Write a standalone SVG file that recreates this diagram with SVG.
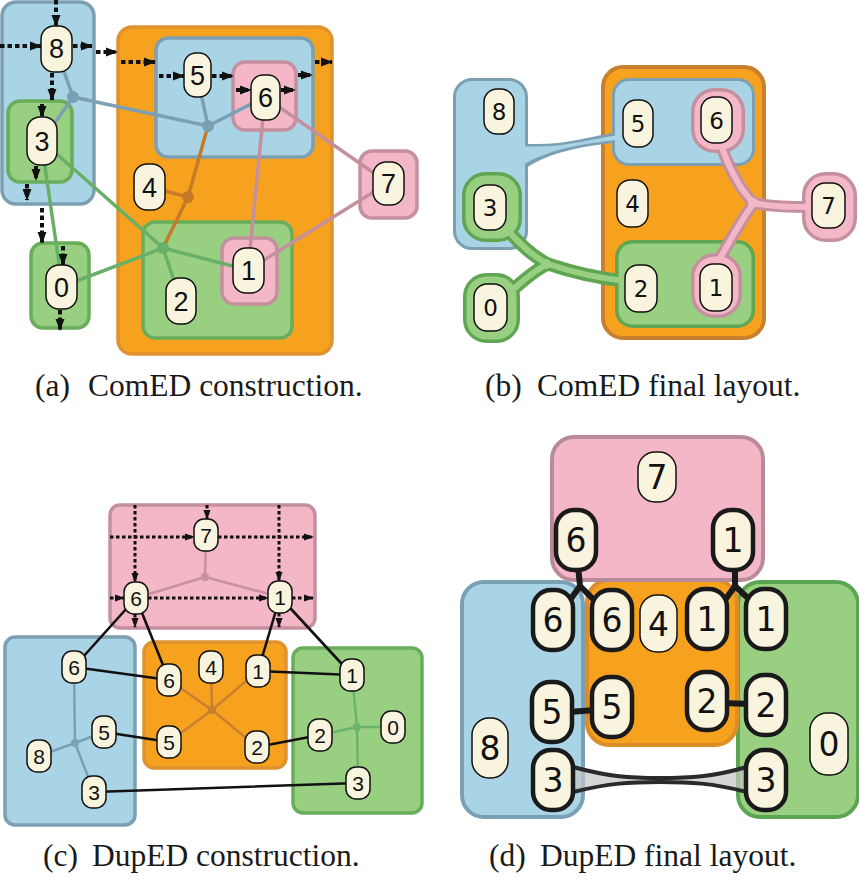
<svg xmlns="http://www.w3.org/2000/svg" width="859" height="881" viewBox="0 0 859 881">
<defs>
<marker id="ah" markerUnits="userSpaceOnUse" markerWidth="12" markerHeight="10" refX="11" refY="5" orient="auto" viewBox="0 0 12 10"><path d="M0,0.5 L12,5 L0,9.5 z" fill="#111"/></marker>
<marker id="ah2" markerUnits="userSpaceOnUse" markerWidth="10" markerHeight="8" refX="9" refY="4" orient="auto" viewBox="0 0 10 8"><path d="M0,0.5 L10,4 L0,7.5 z" fill="#111"/></marker>
<style>
.n{fill:#f8f4de;stroke:#111;stroke-width:1.5}
.nk{fill:#f8f4de;stroke:#1a1a1a;stroke-width:4.5}
.ts{font-family:"Liberation Sans",Arial,sans-serif;text-anchor:middle;fill:#111}
.td{font-family:"DejaVu Sans",sans-serif;text-anchor:middle;fill:#111}
.cap{font-family:"Liberation Serif","Times New Roman",serif;font-size:31.5px;fill:#1a1a1a}
.gb{fill:#a9d4e6;stroke:#7c9fb2;stroke-width:3.5}
.go{fill:#f6a21e;stroke:#de9230;stroke-width:3.5}
.gg{fill:#99cf81;stroke:#68ad5a;stroke-width:3.5}
.gp{fill:#f4b7c7;stroke:#c4909e;stroke-width:3.5}
.dt{fill:none;stroke:#111;stroke-width:4;stroke-dasharray:4.5 3;marker-end:url(#ah)}
.dt2{fill:none;stroke:#111;stroke-width:3;stroke-dasharray:3.5 2.5;marker-end:url(#ah2)}
.eb{stroke:#7b9fb3;stroke-width:3.5;fill:none}
.eo{stroke:#c47a28;stroke-width:3.5;fill:none}
.eg{stroke:#68b068;stroke-width:3.5;fill:none}
.ep{stroke:#c4909e;stroke-width:3.5;fill:none}
.bk{stroke:#111;stroke-width:2.6;fill:none}
.bd{stroke:#1a1a1a;stroke-width:6;fill:none;stroke-linecap:round}
</style>
</defs>
<rect width="859" height="881" fill="#ffffff"/>

<!-- ================= Panel (a) ================= -->
<g id="a-groups">
<rect class="gb" x="2" y="2" width="92" height="202" rx="14"/>
<rect class="gg" x="8" y="101" width="64" height="81" rx="12"/>
<rect class="gg" x="31" y="243" width="58" height="85" rx="12"/>
<rect class="go" x="118" y="27" width="214" height="327" rx="14"/>
<rect class="gb" x="156" y="38" width="157" height="119" rx="12"/>
<rect class="gp" x="233" y="62" width="63" height="68" rx="12"/>
<rect class="gg" x="143" y="222" width="149" height="116" rx="12"/>
<rect class="gp" x="222" y="238" width="55" height="66" rx="12"/>
<rect class="gp" x="360" y="151" width="57" height="67" rx="12"/>
</g>
<g id="a-connectors">
<path class="eb" d="M56,49 L73,97 L42,141 M73,97 L208,126 L197,75 M208,126 L265,97"/>
<path class="eo" d="M149,187 L188,197 L208,126 M188,197 L163,248"/>
<path class="eg" d="M42,141 L163,248 L61,287 M163,248 L181,301 M163,248 L248,270 M44,160 L60,270"/>
<path class="ep" d="M265,97 L388,183 M265,97 L248,270 L388,183"/>
<circle cx="73" cy="97" r="6" fill="#7b9fb3"/>
<circle cx="208" cy="126" r="6" fill="#7b9fb3"/>
<circle cx="188" cy="197" r="6" fill="#c47a28"/>
<circle cx="163" cy="248" r="6" fill="#68b068"/>
<path class="dt" d="M56,0 L56,26"/>
<path class="dt" d="M0,46 L41,46"/>
<path class="dt" d="M73,46 L92,46"/>
<path class="dt" d="M96,52 L117,52"/>
<path class="dt" d="M121,62 L155,62"/>
<path class="dt" d="M159,76 L184,76"/>
<path class="dt" d="M212,76 L233,76"/>
<path class="dt" d="M236,90 L251,90"/>
<path class="dt" d="M281,90 L295,90"/>
<path class="dt" d="M298,75 L312,75"/>
<path class="dt" d="M315,62 L332,62"/>
<path class="dt" d="M52,73 L52,100"/>
<path class="dt" d="M42,104 L42,117"/>
<path class="dt" d="M36,166 L36,180"/>
<path class="dt" d="M27,184 L27,200"/>
<path class="dt" d="M42,208 L42,243"/>
<path class="dt" d="M63,246 L63,265"/>
<path class="dt" d="M60,310 L60,330"/>
</g>
<g id="a-n8"><rect class="n" x="41" y="26" width="31" height="46" rx="13"/><text class="ts" x="56.5" y="58" font-size="27">8</text></g>
<g id="a-n3"><rect class="n" x="27" y="117" width="30" height="48" rx="13"/><text class="ts" x="42" y="150.5" font-size="27">3</text></g>
<g id="a-n5"><rect class="n" x="184" y="53" width="27" height="44" rx="12"/><text class="ts" x="197.5" y="84.5" font-size="27">5</text></g>
<g id="a-n6"><rect class="n" x="251" y="75" width="29" height="45" rx="12"/><text class="ts" x="265.5" y="107" font-size="27">6</text></g>
<g id="a-n4"><rect class="n" x="134" y="164" width="31" height="46" rx="13"/><text class="ts" x="149.5" y="196.5" font-size="27">4</text></g>
<g id="a-n7"><rect class="n" x="373" y="162" width="31" height="43" rx="13"/><text class="ts" x="388.5" y="193" font-size="27">7</text></g>
<g id="a-n1"><rect class="n" x="233" y="248" width="31" height="45" rx="13"/><text class="ts" x="248.5" y="280" font-size="27">1</text></g>
<g id="a-n2"><rect class="n" x="166" y="278" width="30" height="46" rx="13"/><text class="ts" x="181" y="310.5" font-size="27">2</text></g>
<g id="a-n0"><rect class="n" x="46" y="265" width="31" height="44" rx="13"/><text class="ts" x="61.5" y="296.5" font-size="27">0</text></g>
<text class="cap" x="35" y="396">(a)</text>
<text class="cap" x="88" y="396">ComED construction.</text>

<!-- ================= Panel (b) ================= -->
<g id="b-groups">
<rect x="603" y="67" width="161" height="271" rx="20" fill="#f6a21e" stroke="#c8802e" stroke-width="4"/>
<g id="b-blue">
<g fill="#7c9fb2" stroke="#7c9fb2" stroke-width="6" stroke-linejoin="round">
<rect x="456" y="81" width="69" height="166" rx="16"/>
<rect x="615" y="81" width="137" height="82" rx="14"/>
<path d="M522,146 C560,149 586,140 616,135 L616,140 C586,143 546,149 522,168 Z" stroke-width="5"/>
</g>
<g fill="#a9d4e6">
<rect x="456" y="81" width="69" height="166" rx="16"/>
<rect x="615" y="81" width="137" height="82" rx="14"/>
<path d="M518,146 C560,149 586,140 618,135 L618,140 C586,143 546,149 518,168 Z"/>
</g>
</g>
<g id="b-green">
<g stroke="#5fa552">
<rect x="618.5" y="243.5" width="133" height="81" rx="14" fill="#5fa552" stroke-width="7"/>
<rect x="465.5" y="175.5" width="53" height="63" rx="20" fill="#5fa552" stroke-width="7"/>
<rect x="466.5" y="276.5" width="50" height="63" rx="20" fill="#5fa552" stroke-width="7"/>
<path d="M506,228 C520,245 532,256 548,264 M510,292 C522,282 534,270 548,264 M548,264 C572,272 596,278 624,281" fill="none" stroke-width="13"/>
</g>
<g fill="#99cf81">
<rect x="618.5" y="243.5" width="133" height="81" rx="14"/>
<rect x="465.5" y="175.5" width="53" height="63" rx="20"/>
<rect x="466.5" y="276.5" width="50" height="63" rx="20"/>
<path d="M506,228 C520,245 532,256 548,264 M510,292 C522,282 534,270 548,264 M548,264 C572,272 596,278 626,281" fill="none" stroke="#99cf81" stroke-width="6"/>
<circle cx="546" cy="264" r="5"/>
</g>
</g>
<g id="b-pink">
<g stroke="#c4909e">
<rect x="694.5" y="91.5" width="47" height="58" rx="20" fill="#c4909e" stroke-width="7"/>
<rect x="694.5" y="256.5" width="44" height="58" rx="20" fill="#c4909e" stroke-width="7"/>
<rect x="805.5" y="175.5" width="48" height="63" rx="20" fill="#c4909e" stroke-width="7"/>
<path d="M722,148 C732,175 742,192 754,203 M754,203 C772,207 790,207 808,207 M754,203 C742,218 732,238 720,258" fill="none" stroke-width="12"/>
</g>
<g fill="#f4b7c7">
<rect x="694.5" y="91.5" width="47" height="58" rx="20"/>
<rect x="694.5" y="256.5" width="44" height="58" rx="20"/>
<rect x="805.5" y="175.5" width="48" height="63" rx="20"/>
<path d="M722,148 C732,175 742,192 754,203 M754,203 C772,207 790,207 808,207 M754,203 C742,218 732,238 720,258" fill="none" stroke="#f4b7c7" stroke-width="6"/>
<circle cx="753" cy="203" r="5"/>
</g>
</g>
</g>
<g id="b-n8"><rect class="n" x="484" y="89" width="30" height="45" rx="13"/><text class="td" x="499" y="120" font-size="23">8</text></g>
<g id="b-n3"><rect class="n" x="474" y="185" width="32" height="45" rx="13"/><text class="td" x="490" y="216" font-size="23">3</text></g>
<g id="b-n0"><rect class="n" x="474" y="284" width="33" height="47" rx="13"/><text class="td" x="490.5" y="316" font-size="23">0</text></g>
<g id="b-n5"><rect class="n" x="623" y="100" width="30" height="47" rx="13"/><text class="td" x="638" y="132" font-size="23">5</text></g>
<g id="b-n6"><rect class="n" x="701" y="97" width="31" height="46" rx="13"/><text class="td" x="716.5" y="128.5" font-size="23">6</text></g>
<g id="b-n4"><rect class="n" x="617" y="180" width="31" height="47" rx="13"/><text class="td" x="632.5" y="212" font-size="23">4</text></g>
<g id="b-n7"><rect class="n" x="812" y="183" width="33" height="45" rx="13"/><text class="td" x="828.5" y="214" font-size="23">7</text></g>
<g id="b-n2"><rect class="n" x="625" y="265" width="32" height="47" rx="13"/><text class="td" x="641" y="297" font-size="23">2</text></g>
<g id="b-n1"><rect class="n" x="700" y="264" width="32" height="47" rx="13"/><text class="td" x="716" y="296" font-size="23">1</text></g>
<text class="cap" x="485" y="396">(b)</text>
<text class="cap" x="537" y="396">ComED final layout.</text>

<!-- ================= Panel (c) ================= -->
<g id="c-groups">
<rect class="gp" x="110" y="505" width="205" height="123" rx="10" stroke-width="2.5"/>
<rect class="gb" x="5" y="637" width="130" height="188" rx="10" stroke-width="2.5"/>
<rect class="go" x="144" y="642" width="142" height="126" rx="10" stroke-width="2.5"/>
<rect class="gg" x="293" y="648" width="129" height="165" rx="10" stroke-width="2.5"/>
</g>
<g id="c-connectors">
<path d="M206,535 L205,577 L136,598 M205,577 L280,597" stroke="#c890a0" stroke-width="2.5" fill="none"/>
<circle cx="205" cy="577" r="4" fill="#c890a0"/>
<path d="M75,743 L74,667 M75,743 L104,732 M75,743 L39,756 M75,743 L94,792" stroke="#7b9fb3" stroke-width="2.5" fill="none"/>
<circle cx="75" cy="743" r="4" fill="#7b9fb3"/>
<path d="M212,710 L211,667 M212,710 L169,680 M212,710 L258,671 M212,710 L169,742 M212,710 L257,747" stroke="#c8802e" stroke-width="2.5" fill="none"/>
<circle cx="212" cy="710" r="4" fill="#c8802e"/>
<path d="M357,727 L352,675 M357,727 L320,735 M357,727 L393,727 M357,727 L358,783" stroke="#6ab36a" stroke-width="2.5" fill="none"/>
<circle cx="357" cy="727" r="4" fill="#6ab36a"/>
<path class="bk" d="M136,598 L74,667 M136,598 L169,680 M280,597 L258,671 M280,597 L352,675 M74,667 L169,680 M258,671 L352,675 M104,732 L169,742 M257,747 L320,735 M94,792 L358,783"/>
<path class="dt2" d="M110,537 L194,537"/>
<path class="dt2" d="M218,537 L313,537"/>
<path class="dt2" d="M110,598 L124,598"/>
<path class="dt2" d="M148,598 L268,598"/>
<path class="dt2" d="M292,598 L313,598"/>
<path class="dt2" d="M135,505 L135,582"/>
<path class="dt2" d="M135,614 L135,627"/>
<path class="dt2" d="M279,505 L279,581"/>
<path class="dt2" d="M279,613 L279,627"/>
<path class="dt2" d="M207,505 L207,519"/>
</g>
<g id="c-n7"><rect class="n" x="194" y="519" width="24" height="32" rx="10"/><text class="ts" x="206" y="542.5" font-size="21">7</text></g>
<g id="c-n6p"><rect class="n" x="124" y="582" width="24" height="32" rx="10"/><text class="ts" x="136" y="605.5" font-size="21">6</text></g>
<g id="c-n1p"><rect class="n" x="268" y="581" width="24" height="32" rx="10"/><text class="ts" x="280" y="604.5" font-size="21">1</text></g>
<g id="c-n6b"><rect class="n" x="62" y="651" width="24" height="32" rx="10"/><text class="ts" x="74" y="674.5" font-size="21">6</text></g>
<g id="c-n6o"><rect class="n" x="157" y="664" width="24" height="32" rx="10"/><text class="ts" x="169" y="687.5" font-size="21">6</text></g>
<g id="c-n4"><rect class="n" x="199" y="651" width="24" height="32" rx="10"/><text class="ts" x="211" y="674.5" font-size="21">4</text></g>
<g id="c-n1o"><rect class="n" x="246" y="655" width="24" height="32" rx="10"/><text class="ts" x="258" y="678.5" font-size="21">1</text></g>
<g id="c-n1g"><rect class="n" x="340" y="659" width="24" height="32" rx="10"/><text class="ts" x="352" y="682.5" font-size="21">1</text></g>
<g id="c-n5b"><rect class="n" x="92" y="716" width="24" height="32" rx="10"/><text class="ts" x="104" y="739.5" font-size="21">5</text></g>
<g id="c-n5o"><rect class="n" x="157" y="726" width="24" height="32" rx="10"/><text class="ts" x="169" y="749.5" font-size="21">5</text></g>
<g id="c-n2o"><rect class="n" x="245" y="731" width="24" height="32" rx="10"/><text class="ts" x="257" y="754.5" font-size="21">2</text></g>
<g id="c-n2g"><rect class="n" x="308" y="719" width="24" height="32" rx="10"/><text class="ts" x="320" y="742.5" font-size="21">2</text></g>
<g id="c-n0"><rect class="n" x="381" y="711" width="24" height="32" rx="10"/><text class="ts" x="393" y="734.5" font-size="21">0</text></g>
<g id="c-n8"><rect class="n" x="27" y="740" width="24" height="32" rx="10"/><text class="ts" x="39" y="763.5" font-size="21">8</text></g>
<g id="c-n3b"><rect class="n" x="82" y="776" width="24" height="32" rx="10"/><text class="ts" x="94" y="799.5" font-size="21">3</text></g>
<g id="c-n3g"><rect class="n" x="346" y="767" width="24" height="32" rx="10"/><text class="ts" x="358" y="790.5" font-size="21">3</text></g>
<text class="cap" x="43" y="866">(c)</text>
<text class="cap" x="92" y="866">DupED construction.</text>

<!-- ================= Panel (d) ================= -->
<g id="d-groups">
<rect x="462" y="582" width="121" height="235" rx="22" fill="#a9d4e6" stroke="#7aa0b4" stroke-width="4"/>
<rect x="738" y="582" width="120" height="235" rx="22" fill="#99cf81" stroke="#5aa552" stroke-width="4"/>
<rect x="587" y="580" width="150" height="165" rx="22" fill="#f6a21e" stroke="#dd8d28" stroke-width="4"/>
<rect x="552" y="437" width="211" height="143" rx="22" fill="#f4b7c7" stroke="#b98a97" stroke-width="4"/>
</g>
<g id="d-connectors">
<path class="bd" d="M578,566 L580,586 M580,586 L570,600 M580,586 L594,600"/>
<path class="bd" d="M735,566 L735,586 M735,586 L725,600 M735,586 L750,600"/>
<path class="bd" d="M568,712 L596,710"/>
<path class="bd" d="M723,703 L750,704"/>
<path d="M573,767 C610,777 630,778 660,778 C690,778 712,777 747,767 L747,792 C712,783 690,782 660,782 C630,782 610,783 573,792 Z" fill="#c4c4c4" opacity="0.7"/>
<path d="M573,767 C610,777 630,778 660,778 C690,778 712,777 747,767 M573,792 C610,783 630,782 660,782 C690,782 712,783 747,792" fill="none" stroke="#2a2a2a" stroke-width="4"/>
</g>
<g id="d-n7"><rect class="n" x="638" y="452" width="38" height="50" rx="17"/><text class="td" x="657" y="488.5" font-size="33">7</text></g>
<g id="d-n6p"><rect class="nk" x="556" y="510" width="40" height="60" rx="18"/><text class="td" x="576" y="552" font-size="33">6</text></g>
<g id="d-n1p"><rect class="nk" x="713" y="510" width="40" height="60" rx="18"/><text class="td" x="733" y="552" font-size="33">1</text></g>
<g id="d-n6b"><rect class="nk" x="533" y="590" width="40" height="60" rx="18"/><text class="td" x="553" y="632" font-size="33">6</text></g>
<g id="d-n6o"><rect class="nk" x="592" y="590" width="40" height="60" rx="18"/><text class="td" x="612" y="632" font-size="33">6</text></g>
<g id="d-n4"><rect class="n" x="640" y="595" width="37" height="57" rx="17"/><text class="td" x="658.5" y="635.5" font-size="33">4</text></g>
<g id="d-n1o"><rect class="nk" x="687" y="589" width="40" height="60" rx="18"/><text class="td" x="707" y="631" font-size="33">1</text></g>
<g id="d-n1g"><rect class="nk" x="746" y="589" width="40" height="60" rx="18"/><text class="td" x="766" y="631" font-size="33">1</text></g>
<g id="d-n5b"><rect class="nk" x="532" y="682" width="40" height="60" rx="18"/><text class="td" x="552" y="724" font-size="33">5</text></g>
<g id="d-n5o"><rect class="nk" x="592" y="677" width="40" height="60" rx="18"/><text class="td" x="612" y="719" font-size="33">5</text></g>
<g id="d-n2o"><rect class="nk" x="687" y="672" width="40" height="58" rx="18"/><text class="td" x="707" y="713" font-size="33">2</text></g>
<g id="d-n2g"><rect class="nk" x="746" y="675" width="40" height="60" rx="18"/><text class="td" x="766" y="717" font-size="33">2</text></g>
<g id="d-n0"><rect class="n" x="810" y="713" width="38" height="62" rx="17"/><text class="td" x="829" y="756" font-size="33">0</text></g>
<g id="d-n8"><rect class="n" x="472" y="718" width="36" height="60" rx="17"/><text class="td" x="490" y="760" font-size="33">8</text></g>
<g id="d-n3b"><rect class="nk" x="533" y="750" width="40" height="60" rx="18"/><text class="td" x="553" y="792" font-size="33">3</text></g>
<g id="d-n3g"><rect class="nk" x="746" y="750" width="40" height="60" rx="18"/><text class="td" x="766" y="792" font-size="33">3</text></g>
<text class="cap" x="489" y="866">(d)</text>
<text class="cap" x="540" y="866">DupED final layout.</text>
</svg>
